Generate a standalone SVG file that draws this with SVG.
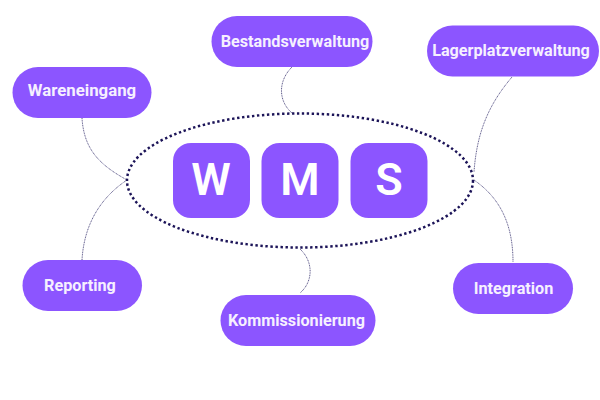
<svg xmlns="http://www.w3.org/2000/svg" width="600" height="400" viewBox="0 0 600 400">
<style>
.n{fill:#8c55ff}
.t{fill:#f6f0ff;font-family:Roboto,"Liberation Sans",sans-serif;font-weight:700;font-size:16.2px;text-anchor:middle}
.b{fill:#fff;font-family:Roboto,"Liberation Sans",sans-serif;font-weight:600;font-size:45px;text-anchor:middle}
.c{fill:none;stroke:#5a5688;stroke-width:1;stroke-dasharray:1 .7}
</style>
<rect width="600" height="400" fill="#fff"/>
<g id="connectors">
<path class="c" d="M82 118C84 150 100 165 127 180"/>
<path class="c" d="M82 260C84 225 100 198 127 180"/>
<path class="c" d="M292 67C277 82 279 102 292 113"/>
<path class="c" d="M512 77C490 103 477 130 474 172"/>
<path class="c" d="M474 180C497 196 513 220 513 262"/>
<path class="c" d="M300 249C314 262 313 282 300 293"/>
</g>
<g id="ellipse"><ellipse cx="300" cy="180.500" rx="173" ry="67" fill="none" stroke="#1c1458" stroke-width="2.500" stroke-dasharray="2.400 2.600"/></g>
<g id="box-w"><rect class="n" x="173" y="143" width="77" height="75" rx="18"/><text class="b" x="211" y="195">W</text></g>
<g id="box-m"><rect class="n" x="261.500" y="143" width="77" height="75" rx="18"/><text class="b" x="300" y="195">M</text></g>
<g id="box-s"><rect class="n" x="350.500" y="143" width="77" height="75" rx="18"/><text class="b" x="389" y="195">S</text></g>
<g id="wareneingang"><rect class="n" x="12.500" y="67" width="139" height="51" rx="25.500"/><text class="t" x="82" y="96" style="font-size:16.800px">Wareneingang</text></g>
<g id="bestandsverwaltung"><rect class="n" x="211.500" y="16" width="161" height="51" rx="25.500"/><text class="t" x="295" y="47">Bestandsverwaltung</text></g>
<g id="lagerplatzverwaltung"><rect class="n" x="427" y="25.500" width="172" height="51" rx="25.500"/><text class="t" x="511" y="56">Lagerplatzverwaltung</text></g>
<g id="reporting"><rect class="n" x="22.500" y="260" width="119.500" height="51" rx="25.500"/><text class="t" x="80" y="290.500">Reporting</text></g>
<g id="kommissionierung"><rect class="n" x="220.500" y="295" width="155" height="51" rx="25.500"/><text class="t" x="296.500" y="326">Kommissionierung</text></g>
<g id="integration"><rect class="n" x="453" y="263" width="120" height="51" rx="25.500"/><text class="t" x="513.500" y="294">Integration</text></g>
</svg>
